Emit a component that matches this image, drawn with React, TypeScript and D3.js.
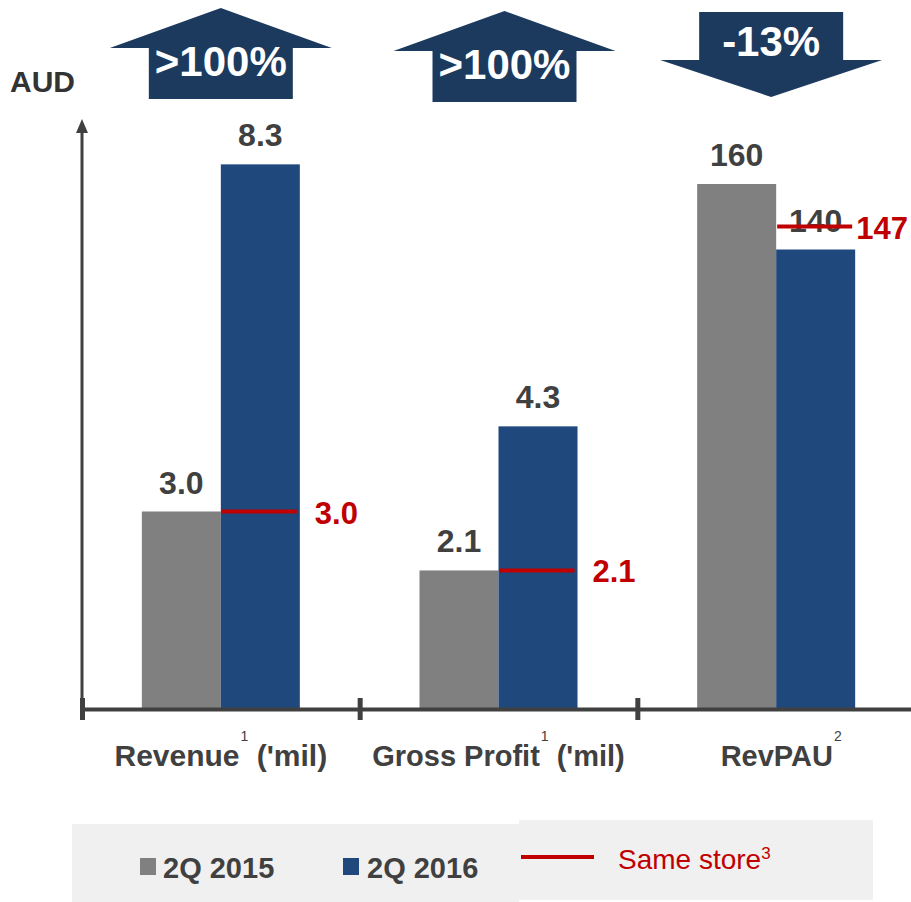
import React from 'react';
import * as d3 from 'd3';

const categories = ['Revenue', 'Gross Profit', 'RevPAU'];
const catSuffix = [" ('mil)", " ('mil)", ''];
const catNotes = ['1', '1', '2'];
const series = ['2Q 2015', '2Q 2016'];
const values2015 = [3.0, 2.1, 160];
const values2016 = [8.3, 4.3, 140];
const sameStore = [3.0, 2.1, 147];
const changeLabels = ['>100%', '>100%', '-13%'];
const changeDir = ['up', 'up', 'down'];

const W = 911;
const H = 902;
const GREY = '#808080';
const BLUE = '#1f497d';
const RED = '#c00000';
const TEXT = '#404040';
const NAVY = '#1c3a5e';
const FONT = '"Liberation Sans", Arial, sans-serif';

const App = () => {
  const x = d3.scaleBand().domain(categories).range([82, 915]).padding(0);
  const bw = x.bandwidth();
  const x1 = d3.scaleBand().domain(series).range([bw / 2 - 79, bw / 2 + 79]).padding(0);

  // revenue and gross profit share one scale, RevPAU has its own
  const yMil = d3.scaleLinear().domain([0, 10]).range([708, 53]);
  const yRev = d3.scaleLinear().domain([0, 200]).range([708, 53]);
  const yFor = (i: number) => (i === 2 ? yRev : yMil);
  const fmt = (i: number, v: number) => (i === 2 ? d3.format('d')(v) : d3.format('.1f')(v));

  const arrowPath = (cx: number, dir: string, top: number) => {
    const hw = 111, sw = 72;
    if (dir === 'up') {
      const base = top + 40, bottom = top + 91;
      return `M${cx},${top} L${cx + hw},${base} L${cx + sw},${base} L${cx + sw},${bottom} L${cx - sw},${bottom} L${cx - sw},${base} L${cx - hw},${base} Z`;
    }
    const base = top + 48, tip = top + 85;
    return `M${cx - sw},${top} L${cx + sw},${top} L${cx + sw},${base} L${cx + hw},${base} L${cx},${tip} L${cx - hw},${base} L${cx - sw},${base} Z`;
  };
  const arrowDx = [0, 6, -5];
  const arrowTop = [8, 11, 12];
  const ssLabelGap = [15, 15, 1];

  return (
    <svg width={W} height={H} style={{ display: 'block', position: 'absolute', left: 0, top: 0 }} fontFamily={FONT}>
      <rect width={W} height={H} fill="#fff" />

      {/* change arrows */}
      {categories.map((c, i) => {
        const cx = (x(c) as number) + bw / 2 + arrowDx[i];
        const top = arrowTop[i];
        const ty = changeDir[i] === 'up' ? top + 68 : top + 44;
        return (
          <g key={'arr' + c}>
            <path d={arrowPath(cx, changeDir[i], top)} fill={NAVY} />
            <text x={cx} y={ty} textAnchor="middle" fill="#fff" fontSize={42} fontWeight="bold">
              {changeLabels[i]}
            </text>
          </g>
        );
      })}

      <text x={10} y={92} fontSize={30} fontWeight="bold" fill="#333">AUD</text>

      {/* bars */}
      {categories.map((c, i) => {
        const y = yFor(i);
        const vals = [values2015[i], values2016[i]];
        const x0 = x(c) as number;
        return (
          <g key={'bars' + c}>
            {vals.map((v, j) => (
              <rect key={j} x={x0 + (x1(series[j]) as number)} y={y(v)} width={x1.bandwidth()}
                height={y(0) - y(v)} fill={j === 0 ? GREY : BLUE} />
            ))}
            {vals.map((v, j) => (
              <text key={'l' + j} x={x0 + (x1(series[j]) as number) + x1.bandwidth() / 2} y={y(v) - 18}
                textAnchor="middle" fontSize={32} fontWeight="bold" fill={TEXT}>
                {fmt(i, v)}
              </text>
            ))}
          </g>
        );
      })}

      {/* same store markers */}
      {categories.map((c, i) => {
        const y = yFor(i);
        const bx = (x(c) as number) + (x1(series[1]) as number);
        return (
          <g key={'ss' + c}>
            <line x1={bx + 1} x2={bx + x1.bandwidth() - 3} y1={y(sameStore[i])} y2={y(sameStore[i])}
              stroke={RED} strokeWidth={4} />
            <text x={bx + x1.bandwidth() + ssLabelGap[i]} y={y(sameStore[i]) + 12} fontSize={31}
              fontWeight="bold" fill={RED}>
              {fmt(i, sameStore[i])}
            </text>
          </g>
        );
      })}

      {/* axes */}
      <line x1={82} x2={82} y1={128} y2={720} stroke={TEXT} strokeWidth={3} />
      <path d="M82,119 L76,133 L88,133 Z" fill={TEXT} />
      <line x1={80} x2={W} y1={709.5} y2={709.5} stroke={TEXT} strokeWidth={4} />
      {categories.map((c) => (
        <line key={'t' + c} x1={(x(c) as number) + 0.5} x2={(x(c) as number) + 0.5} y1={698} y2={720}
          stroke={TEXT} strokeWidth={5} />
      ))}

      {/* category labels */}
      {categories.map((c, i) => (
        <text key={'cl' + c} x={(x(c) as number) + bw / 2 + (i === 2 ? 5 : 0)} y={766} textAnchor="middle"
          fontSize={i === 0 ? 30 : 29} fontWeight="bold" fill={TEXT}>
          <tspan>{c}</tspan>
          <tspan dy={-25} fontSize={14} fontWeight="normal" dx={1}>{catNotes[i]}</tspan>
          <tspan dy={25}>{catSuffix[i]}</tspan>
        </text>
      ))}

      {/* legend */}
      <rect x={72} y={824} width={447} height={78} fill="#f0f0f0" />
      <rect x={519} y={820} width={354} height={80} fill="#f0f0f0" />
      <rect x={140} y={858} width={16} height={17} fill={GREY} />
      <text x={163} y={878} fontSize={29} fontWeight="bold" fill={TEXT}>{series[0]}</text>
      <rect x={343} y={858} width={16} height={17} fill={BLUE} />
      <text x={367} y={878} fontSize={29} fontWeight="bold" fill={TEXT}>{series[1]}</text>
      <line x1={521} x2={594} y1={857} y2={857} stroke={RED} strokeWidth={4} />
      <text x={618} y={869} fontSize={28} fill={RED}>
        Same store<tspan dy={-10} fontSize={17}>3</tspan>
      </text>
    </svg>
  );
};

export default App;
